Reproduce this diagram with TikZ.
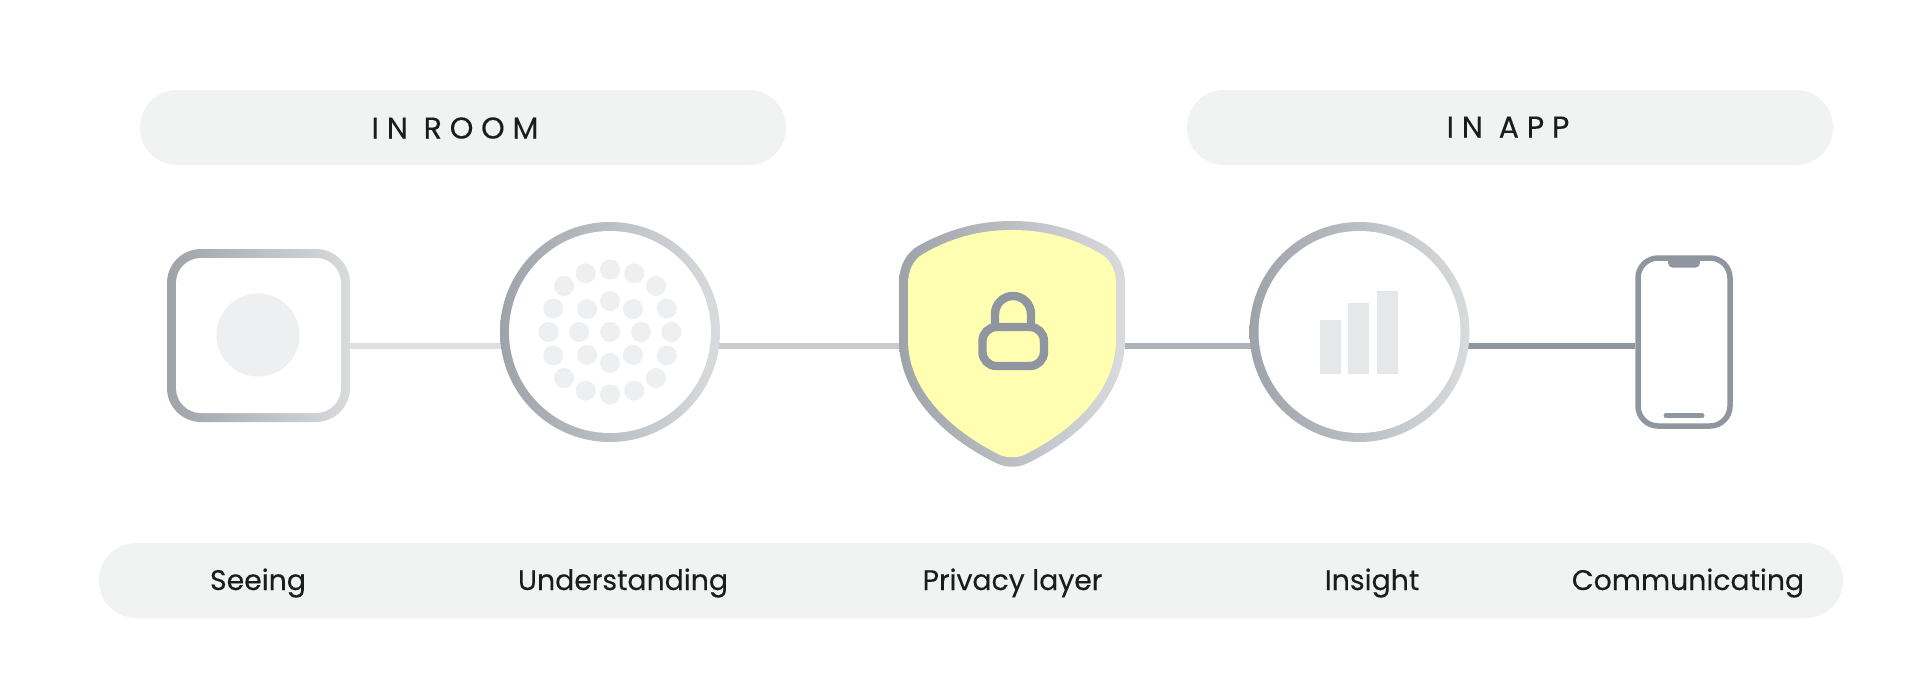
\documentclass[tikz,border=0pt]{standalone}
\usepackage{fontspec}
\usepackage{color}
\usetikzlibrary{positioning, backgrounds}
\newfontfamily\labelfont[FakeBold=0.25]{Poppins}
\newfontfamily\capsfont[LetterSpace=26, FakeBold=0.25]{Poppins}
\definecolor{pillgray}{HTML}{F1F3F2}
\definecolor{ringdark}{HTML}{9EA3AA}
\definecolor{ringlight}{HTML}{D9DBDD}
\definecolor{steel}{HTML}{8F969F}
\definecolor{dotgray}{HTML}{EEEFF1}
\definecolor{bargray}{HTML}{E6E7E9}
\definecolor{shieldyellow}{HTML}{FFFFB2}
\definecolor{ink}{HTML}{1C1C1C}
\tikzstyle{pill}=[inner sep=0pt, shape=rectangle, fill=pillgray, rounded corners=37pt, minimum height=75pt]
\tikzstyle{head}=[inner sep=0pt, anchor=base, text=ink, font=\fontsize{30}{32}\selectfont\capsfont]
\tikzstyle{lbl}=[inner sep=0pt, anchor=base, text=ink, font=\fontsize{28.3}{32}\selectfont\labelfont]
\tikzstyle{ring}=[inner sep=0pt, shape=circle, left color=ringdark, right color=ringlight, minimum size=220pt]
\tikzstyle{hole}=[inner sep=0pt, shape=circle, fill=white, minimum size=202pt]
\tikzstyle{dot}=[inner sep=0pt, shape=circle, fill=dotgray, minimum size=20pt]
\tikzstyle{bar}=[inner sep=0pt, shape=rectangle, fill=bargray, minimum width=21pt, anchor=south]
\tikzstyle{wire}=[line width=5.5pt]

\begin{document}
\begin{tikzpicture}[x=1pt, y=-1pt]
\useasboundingbox (0,0) rectangle (1920,699);
% the pills
\node[pill, minimum width=646pt] (Room) at (463,127.5) {};
\node[pill, minimum width=646pt] (App) at (1510,127.5) {};
\node[pill, minimum width=1744pt] (Names) at (971,580.5) {};
\node[head] (RoomT) at (455,138.5) {IN ROOM};
\node[head] (AppT) at (1508,137.5) {IN APP};
\node[lbl] (SeeT) at (258,590) {Seeing};
\node[lbl] (UndT) at (623,590) {Understanding};
\node[lbl] (PrivT) at (1012.5,590) {Privacy layer};
\node[lbl] (InsT) at (1372,590) {Insight};
\node[lbl] (ComT) at (1688,590) {Communicating};
% the camera square
\node[inner sep=0pt, shape=rectangle, left color=ringdark, right color=ringlight, rounded corners=34pt, minimum width=183pt, minimum height=173pt] (See) at (258.5,335.5) {};
\node[inner sep=0pt, shape=rectangle, fill=white, rounded corners=25pt, minimum width=165pt, minimum height=155pt] (SeeIn) at (See) {};
\node[dot, minimum size=83pt] (Lens) at (258,335) {};
% the circle with the dots
\node[ring] (Und) at (610,332) {};
\node[hole] (UndIn) at (Und) {};
\begin{scope}[shift={(610,332)}]
% the centre
\node[dot] (C) at (0,0) {};
% the inner eight
\node[dot] (I0) at (0: 31) {};
\node[dot] (I1) at (45: 32.5) {};
\node[dot] (I2) at (90: 31) {};
\node[dot] (I3) at (135: 32.5) {};
\node[dot] (I4) at (180: 31) {};
\node[dot] (I5) at (225: 32.5) {};
\node[dot] (I6) at (270: 31) {};
\node[dot] (I7) at (315: 32.5) {};
% the outer sixteen
\node[dot] (O0) at (0: 61.5) {};
\node[dot] (O1) at (22.5: 61.5) {};
\node[dot] (O2) at (45: 65) {};
\node[dot] (O3) at (67.5: 63.5) {};
\node[dot] (O4) at (90: 62.5) {};
\node[dot] (O5) at (112.5: 63.5) {};
\node[dot] (O6) at (135: 65) {};
\node[dot] (O7) at (157.5: 61.5) {};
\node[dot] (O8) at (180: 61.5) {};
\node[dot] (O9) at (202.5: 61.5) {};
\node[dot] (O10) at (225: 65) {};
\node[dot] (O11) at (247.5: 63.5) {};
\node[dot] (O12) at (270: 62.5) {};
\node[dot] (O13) at (292.5: 63.5) {};
\node[dot] (O14) at (315: 65) {};
\node[dot] (O15) at (337.5: 61.5) {};
\end{scope}
% the shield
\node[inner sep=0pt, minimum width=226pt, minimum height=242pt] (Priv) at (1012,346) {};
\shade[left color=ringdark, right color=ringlight] (1012,221) .. controls (975,221) and (945,231) .. (918,246) .. controls (906,253) and (899,266) .. (899,284) -- (899,340) .. controls (899,395) and (945,438) .. (996,463) .. controls (1006,468) and (1018,468) .. (1028,463) .. controls (1079,438) and (1125,395) .. (1125,340) -- (1125,284) .. controls (1125,266) and (1118,253) .. (1106,246) .. controls (1079,231) and (1049,221) .. (1012,221) -- cycle;
\fill[shieldyellow] (1012,230) .. controls (977,230) and (949,239) .. (923,254) .. controls (913,260) and (908,271) .. (908,284) -- (908,340) .. controls (908,390) and (950,430) .. (1000,455) .. controls (1007,458) and (1017,458) .. (1024,455) .. controls (1074,430) and (1116,390) .. (1116,340) -- (1116,284) .. controls (1116,271) and (1111,260) .. (1101,254) .. controls (1075,239) and (1047,230) .. (1012,230) -- cycle;
% the lock
\node[inner sep=0pt, draw=steel, line width=8.4pt, rounded corners=14pt, minimum width=61.5pt, minimum height=39pt] (Lock) at (1013.2,346.5) {};
\draw[steel, line width=8.4pt, rounded corners=18pt] (995,327) -- (995,296) -- (1031,296) -- (1031,327);
% the circle with the bars
\node[ring] (Ins) at (1359.5,332) {};
\node[hole] (InsIn) at (Ins) {};
\node[bar, minimum height=54pt] (B0) at (1330.3,374) {};
\node[bar, minimum height=71pt] (B1) at (1358.5,374) {};
\node[bar, minimum height=83pt] (B2) at (1387.2,374) {};
% the phone
\node[inner sep=0pt, draw=steel, line width=5.5pt, rounded corners=20pt, minimum width=92pt, minimum height=168pt] (Com) at (1684,342) {};
\fill[steel, rounded corners=4pt] (1668.2,256) -- (1668.2,267.5) -- (1699.8,267.5) -- (1699.8,256) -- cycle;
\draw[steel, line width=5pt, line cap=round] (1666,415.7) -- (1702,415.7);
% the connectors
\begin{scope}[on background layer]
\draw[wire, color={rgb,255:red,223;green,224;blue,226}] ([yshift=-10.5pt]See.east) -- ([xshift=2pt, yshift=-14pt]Und.west);
\draw[wire, color={rgb,255:red,200;green,204;blue,208}] ([xshift=-2pt, yshift=-14pt]Und.east) -- (Priv.west);
\draw[wire, color={rgb,255:red,174;green,179;blue,185}] (Priv.east) -- ([xshift=2pt, yshift=-14pt]Ins.west);
\draw[wire, color=steel] ([xshift=-2pt, yshift=-14pt]Ins.east) -- ([yshift=-4pt]Com.west);
\end{scope}
\end{tikzpicture}
\end{document}
